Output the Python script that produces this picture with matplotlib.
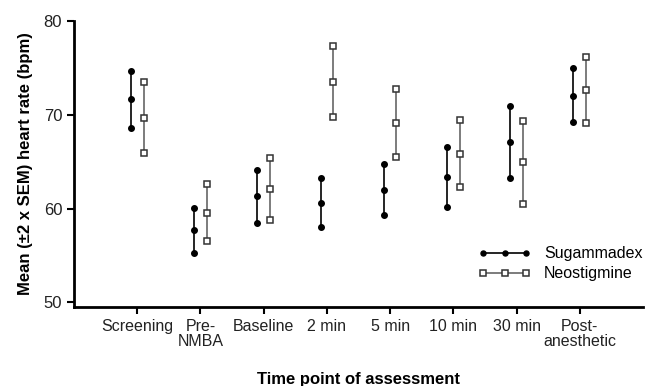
import numpy as np
import matplotlib
matplotlib.use("Agg")
import matplotlib.pyplot as plt

plt.rcParams["font.family"] = ["Liberation Sans", "DejaVu Sans"]

timepoints = ["Screening", "Pre-\nNMBA", "Baseline", "2 min", "5 min",
              "10 min", "30 min", "Post-\nanesthetic"]

sug_mean = [71.7, 57.7, 61.3, 60.6, 62.0, 63.4, 67.1, 72.0]
sug_low = [68.6, 55.3, 58.5, 58.0, 59.3, 60.2, 63.3, 69.2]
sug_high = [74.7, 60.1, 64.1, 63.3, 64.8, 66.6, 70.9, 75.0]

neo_mean = [69.7, 59.5, 62.1, 73.5, 69.1, 65.8, 65.0, 72.6]
neo_low = [65.9, 56.5, 58.8, 69.8, 65.5, 62.3, 60.5, 69.1]
neo_high = [73.5, 62.6, 65.4, 77.3, 72.8, 69.4, 69.3, 76.2]

fig = plt.figure(figsize=(6.53, 3.86), dpi=100)
ax = fig.add_axes([0.1133, 0.2047, 0.8714, 0.7409])

x = np.arange(1, len(timepoints) + 1)
off = 0.1

for i in range(len(x)):
    lab = "Sugammadex" if i == 0 else None
    ax.plot([x[i] - off] * 3, [sug_low[i], sug_mean[i], sug_high[i]],
            color="black", lw=1.2, marker="o", ms=4, mfc="black",
            mec="black", label=lab)
for i in range(len(x)):
    lab = "Neostigmine" if i == 0 else None
    ax.plot([x[i] + off] * 3, [neo_low[i], neo_mean[i], neo_high[i]],
            color="#666666", lw=1.2, marker="s", ms=4.5, mfc="white",
            mec="#333333", mew=1.1, label=lab)

ax.set_xlim(0, 9)
ax.set_ylim(49.5, 80)
ax.set_yticks([50, 60, 70, 80])
ax.set_xticks(x)
ax.set_xticklabels(timepoints, fontsize=11.5, color="#222222", linespacing=0.95)
ax.tick_params(axis="y", labelsize=12, labelcolor="#222222", width=1.5, length=5)
ax.tick_params(axis="x", width=1.5, length=5, pad=4)

for s in ["top", "right"]:
    ax.spines[s].set_visible(False)
for s in ["left", "bottom"]:
    ax.spines[s].set_linewidth(2)

ax.set_ylabel("Mean (\u00b12 x SEM) heart rate (bpm)", fontsize=12,
              fontweight="bold", labelpad=8)
ax.set_xlabel("Time point of assessment", fontsize=12, fontweight="bold",
              labelpad=17)

ax.legend(loc="lower right", bbox_to_anchor=(1.024, 0.04), frameon=False,
          numpoints=3, handlelength=3.3, fontsize=11.5, handletextpad=0.8,
          labelspacing=0.3, markerscale=0.9)

fig.savefig("out.png", dpi=100)
